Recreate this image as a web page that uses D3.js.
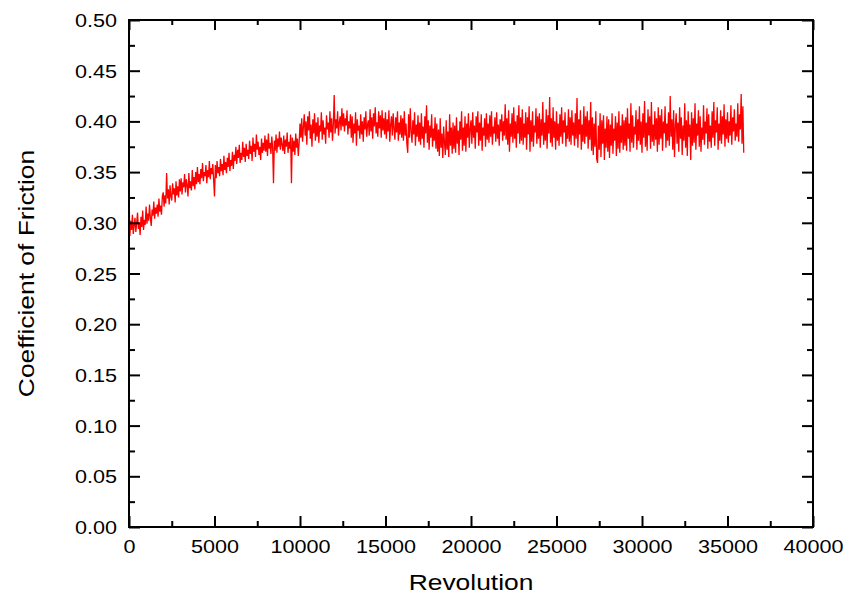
<!DOCTYPE html>
<html>
<head>
<meta charset="utf-8">
<script src="https://cdn.jsdelivr.net/npm/d3@7"></script>
<style>
  html, body { margin: 0; padding: 0; background: #fff; }
  svg { display: block; }
  text { font-family: "Liberation Sans", Arial, sans-serif; fill: #000; }
</style>
</head>
<body>
<svg id="chart" width="849" height="596"></svg>
<script>
// ---- data ----
const revStep = 50; // revolutions between samples
const cofValues = [
  0.331, 0.287, 0.302, 0.293, 0.308, 0.289, 0.297, 0.305, 0.291, 0.300, 0.310, 0.294, 0.299, 0.288, 0.306, 0.296, 0.312, 0.293, 0.303, 0.298,
  0.316, 0.299, 0.309, 0.302, 0.318, 0.305, 0.297, 0.313, 0.307, 0.321, 0.304, 0.315, 0.309, 0.318, 0.306, 0.324, 0.311, 0.317, 0.308, 0.326,
  0.330, 0.316, 0.327, 0.319, 0.349, 0.324, 0.333, 0.318, 0.337, 0.326, 0.322, 0.339, 0.328, 0.334, 0.320, 0.341, 0.327, 0.336, 0.325, 0.343,
  0.331, 0.344, 0.328, 0.340, 0.335, 0.348, 0.330, 0.343, 0.337, 0.326, 0.349, 0.334, 0.341, 0.332, 0.352, 0.336, 0.345, 0.333, 0.350, 0.338,
  0.355, 0.340, 0.348, 0.338, 0.353, 0.344, 0.359, 0.341, 0.350, 0.346, 0.357, 0.339, 0.352, 0.345, 0.361, 0.343, 0.354, 0.348, 0.358, 0.342,
  0.326, 0.357, 0.344, 0.361, 0.349, 0.355, 0.346, 0.363, 0.351, 0.358, 0.347, 0.366, 0.352, 0.360, 0.349, 0.364, 0.355, 0.369, 0.351, 0.362,
  0.356, 0.370, 0.353, 0.367, 0.361, 0.375, 0.358, 0.372, 0.364, 0.377, 0.359, 0.369, 0.362, 0.380, 0.365, 0.374, 0.360, 0.378, 0.366, 0.372,
  0.363, 0.381, 0.368, 0.376, 0.361, 0.384, 0.370, 0.378, 0.365, 0.387, 0.372, 0.380, 0.367, 0.375, 0.362, 0.383, 0.369, 0.379, 0.371, 0.386,
  0.370, 0.382, 0.366, 0.388, 0.373, 0.379, 0.368, 0.385, 0.374, 0.339, 0.381, 0.371, 0.387, 0.369, 0.383, 0.375, 0.390, 0.372, 0.384, 0.377,
  0.371, 0.386, 0.368, 0.382, 0.375, 0.389, 0.369, 0.380, 0.373, 0.387, 0.339, 0.384, 0.370, 0.381, 0.367, 0.388, 0.374, 0.383, 0.366, 0.379,
  0.398, 0.384, 0.403, 0.380, 0.395, 0.407, 0.386, 0.400, 0.377, 0.405, 0.391, 0.410, 0.383, 0.397, 0.375, 0.402, 0.388, 0.408, 0.381, 0.399,
  0.385, 0.404, 0.379, 0.396, 0.390, 0.409, 0.382, 0.401, 0.387, 0.394, 0.378, 0.406, 0.392, 0.399, 0.384, 0.410, 0.389, 0.403, 0.381, 0.397,
  0.426, 0.388, 0.402, 0.393, 0.410, 0.386, 0.399, 0.405, 0.391, 0.413, 0.395, 0.408, 0.390, 0.403, 0.396, 0.411, 0.387, 0.400, 0.393, 0.407,
  0.384, 0.405, 0.379, 0.398, 0.388, 0.409, 0.376, 0.402, 0.391, 0.396, 0.383, 0.407, 0.387, 0.400, 0.380, 0.404, 0.392, 0.410, 0.385, 0.397,
  0.401, 0.386, 0.412, 0.390, 0.404, 0.383, 0.408, 0.395, 0.414, 0.388, 0.399, 0.385, 0.410, 0.393, 0.406, 0.384, 0.411, 0.391, 0.403, 0.387,
  0.409, 0.383, 0.402, 0.390, 0.411, 0.380, 0.397, 0.405, 0.386, 0.408, 0.393, 0.382, 0.404, 0.389, 0.410, 0.381, 0.399, 0.387, 0.406, 0.384,
  0.403, 0.381, 0.410, 0.386, 0.398, 0.378, 0.369, 0.407, 0.384, 0.413, 0.390, 0.379, 0.401, 0.387, 0.409, 0.376, 0.397, 0.385, 0.406, 0.380,
  0.399, 0.377, 0.408, 0.383, 0.395, 0.374, 0.405, 0.388, 0.416, 0.379, 0.401, 0.372, 0.396, 0.384, 0.407, 0.375, 0.393, 0.381, 0.404, 0.373,
  0.398, 0.370, 0.392, 0.366, 0.403, 0.374, 0.388, 0.364, 0.395, 0.379, 0.367, 0.401, 0.372, 0.390, 0.365, 0.407, 0.376, 0.394, 0.368, 0.399,
  0.373, 0.396, 0.369, 0.404, 0.378, 0.391, 0.367, 0.400, 0.382, 0.410, 0.371, 0.394, 0.376, 0.405, 0.370, 0.398, 0.384, 0.408, 0.374, 0.393,
  0.401, 0.378, 0.409, 0.384, 0.396, 0.373, 0.405, 0.389, 0.410, 0.376, 0.399, 0.381, 0.407, 0.371, 0.394, 0.386, 0.403, 0.375, 0.408, 0.382,
  0.398, 0.379, 0.406, 0.385, 0.410, 0.377, 0.395, 0.388, 0.404, 0.380, 0.409, 0.383, 0.397, 0.376, 0.402, 0.390, 0.407, 0.381, 0.400, 0.386,
  0.417, 0.382, 0.403, 0.377, 0.411, 0.370, 0.398, 0.385, 0.408, 0.379, 0.414, 0.383, 0.400, 0.374, 0.406, 0.388, 0.416, 0.378, 0.404, 0.381,
  0.412, 0.377, 0.398, 0.384, 0.409, 0.372, 0.404, 0.387, 0.415, 0.370, 0.401, 0.380, 0.410, 0.375, 0.396, 0.389, 0.413, 0.378, 0.405, 0.383,
  0.408, 0.374, 0.402, 0.386, 0.419, 0.377, 0.399, 0.381, 0.412, 0.373, 0.406, 0.388, 0.424, 0.379, 0.403, 0.375, 0.414, 0.384, 0.400, 0.372,
  0.410, 0.381, 0.398, 0.376, 0.407, 0.385, 0.414, 0.378, 0.401, 0.389, 0.409, 0.375, 0.396, 0.383, 0.412, 0.380, 0.404, 0.377, 0.411, 0.386,
  0.399, 0.376, 0.408, 0.383, 0.423, 0.374, 0.402, 0.387, 0.411, 0.372, 0.397, 0.380, 0.415, 0.378, 0.405, 0.385, 0.410, 0.373, 0.401, 0.382,
  0.419, 0.371, 0.404, 0.367, 0.398, 0.375, 0.410, 0.363, 0.359, 0.396, 0.372, 0.408, 0.365, 0.401, 0.378, 0.406, 0.362, 0.393, 0.374, 0.405,
  0.370, 0.402, 0.364, 0.397, 0.376, 0.408, 0.368, 0.393, 0.381, 0.405, 0.366, 0.399, 0.373, 0.410, 0.369, 0.396, 0.379, 0.407, 0.372, 0.401,
  0.376, 0.404, 0.371, 0.413, 0.383, 0.398, 0.370, 0.418, 0.379, 0.406, 0.374, 0.395, 0.387, 0.411, 0.372, 0.402, 0.381, 0.415, 0.377, 0.400,
  0.369, 0.408, 0.384, 0.420, 0.375, 0.399, 0.371, 0.412, 0.386, 0.405, 0.373, 0.419, 0.380, 0.397, 0.376, 0.410, 0.382, 0.403, 0.370, 0.414,
  0.377, 0.406, 0.383, 0.412, 0.371, 0.400, 0.388, 0.415, 0.374, 0.398, 0.381, 0.409, 0.376, 0.425, 0.385, 0.402, 0.372, 0.411, 0.365, 0.396,
  0.408, 0.378, 0.399, 0.370, 0.414, 0.383, 0.404, 0.367, 0.396, 0.381, 0.418, 0.374, 0.401, 0.366, 0.410, 0.385, 0.397, 0.362, 0.409, 0.376,
  0.403, 0.379, 0.418, 0.372, 0.398, 0.386, 0.411, 0.375, 0.405, 0.370, 0.394, 0.382, 0.416, 0.377, 0.400, 0.388, 0.413, 0.373, 0.407, 0.380,
  0.396, 0.374, 0.410, 0.384, 0.419, 0.376, 0.401, 0.389, 0.414, 0.372, 0.398, 0.381, 0.411, 0.378, 0.405, 0.387, 0.417, 0.375, 0.402, 0.383,
  0.409, 0.379, 0.400, 0.386, 0.416, 0.377, 0.404, 0.390, 0.412, 0.381, 0.398, 0.385, 0.418, 0.380, 0.407, 0.392, 0.427, 0.378, 0.415, 0.369
];
const xMajorTicks = [0, 5000, 10000, 15000, 20000, 25000, 30000, 35000, 40000];
const xMinorTicks = [2500, 7500, 12500, 17500, 22500, 27500, 32500, 37500];
const yMajorTicks = [0.00, 0.05, 0.10, 0.15, 0.20, 0.25, 0.30, 0.35, 0.40, 0.45, 0.50];
const yMinorTicks = [0.025, 0.075, 0.125, 0.175, 0.225, 0.275, 0.325, 0.375, 0.425, 0.475];
const xTitle = "Revolution";
const yTitle = "Coefficient of Friction";

// ---- layout ----
const pL = 129, pR = 813, pT = 20, pB = 527;
const stretch = 1.2; // labels appear horizontally widened

const svg = d3.select("#chart");
const x = d3.scaleLinear().domain([0, 40000]).range([pL, pR]);
const y = d3.scaleLinear().domain([0, 0.5]).range([pB, pT]);

const data = cofValues.map((v, i) => ({ rev: i * revStep, cof: v }));

// line
const line = d3.line().x(d => x(d.rev)).y(d => y(d.cof));
svg.append("path")
  .datum(data)
  .attr("fill", "none")
  .attr("stroke", "#ff0000")
  .attr("stroke-width", 1.3)
  .attr("d", line);

// axes helpers
function styleAxis(g) {
  g.selectAll(".domain").remove();
  g.selectAll(".tick line").attr("stroke", "#000").attr("stroke-width", 2);
}
const majorLen = 11, minorLen = 6;

// bottom
const gB = svg.append("g").attr("transform", `translate(0,${pB})`);
gB.call(d3.axisBottom(x).tickValues(xMajorTicks).tickSizeInner(-majorLen).tickSizeOuter(0).tickFormat(d3.format("d")));
styleAxis(gB);
gB.selectAll(".tick text")
  .attr("font-size", 18)
  .attr("font-family", "Liberation Sans, Arial, sans-serif")
  .attr("y", 0).attr("dy", 0)
  .attr("transform", `translate(0,26) scale(${stretch},1)`);
const gBm = svg.append("g").attr("transform", `translate(0,${pB})`);
gBm.call(d3.axisBottom(x).tickValues(xMinorTicks).tickSizeInner(-minorLen).tickSizeOuter(0).tickFormat(""));
styleAxis(gBm);

// top
const gT = svg.append("g").attr("transform", `translate(0,${pT})`);
gT.call(d3.axisTop(x).tickValues(xMajorTicks).tickSizeInner(-majorLen + 1).tickSizeOuter(0).tickFormat(""));
styleAxis(gT);
const gTm = svg.append("g").attr("transform", `translate(0,${pT})`);
gTm.call(d3.axisTop(x).tickValues(xMinorTicks).tickSizeInner(-minorLen + 1).tickSizeOuter(0).tickFormat(""));
styleAxis(gTm);

// left
const gL = svg.append("g").attr("transform", `translate(${pL},0)`);
gL.call(d3.axisLeft(y).tickValues(yMajorTicks).tickSizeInner(-majorLen).tickSizeOuter(0).tickFormat(d3.format(".2f")));
styleAxis(gL);
gL.selectAll(".tick text")
  .attr("font-size", 18)
  .attr("font-family", "Liberation Sans, Arial, sans-serif")
  .attr("text-anchor", "end")
  .attr("x", 0).attr("dy", 0)
  .attr("transform", `translate(-12,6.5) scale(${stretch},1)`);
const gLm = svg.append("g").attr("transform", `translate(${pL},0)`);
gLm.call(d3.axisLeft(y).tickValues(yMinorTicks).tickSizeInner(-minorLen).tickSizeOuter(0).tickFormat(""));
styleAxis(gLm);

// right
const gR = svg.append("g").attr("transform", `translate(${pR},0)`);
gR.call(d3.axisRight(y).tickValues(yMajorTicks).tickSizeInner(-majorLen).tickSizeOuter(0).tickFormat(""));
styleAxis(gR);
const gRm = svg.append("g").attr("transform", `translate(${pR},0)`);
gRm.call(d3.axisRight(y).tickValues(yMinorTicks).tickSizeInner(-minorLen).tickSizeOuter(0).tickFormat(""));
styleAxis(gRm);

// frame
svg.append("rect")
  .attr("x", pL).attr("y", pT)
  .attr("width", pR - pL).attr("height", pB - pT)
  .attr("fill", "none").attr("stroke", "#000").attr("stroke-width", 2);

// titles
svg.append("text")
  .attr("text-anchor", "middle")
  .attr("font-size", 22)
  .attr("transform", `translate(${(pL + pR) / 2},590) scale(${stretch},1)`)
  .text(xTitle);
svg.append("text")
  .attr("text-anchor", "middle")
  .attr("font-size", 22)
  .attr("transform", `translate(34,${(pT + pB) / 2}) rotate(-90) scale(${stretch},1)`)
  .text(yTitle);
</script>
</body>
</html>
